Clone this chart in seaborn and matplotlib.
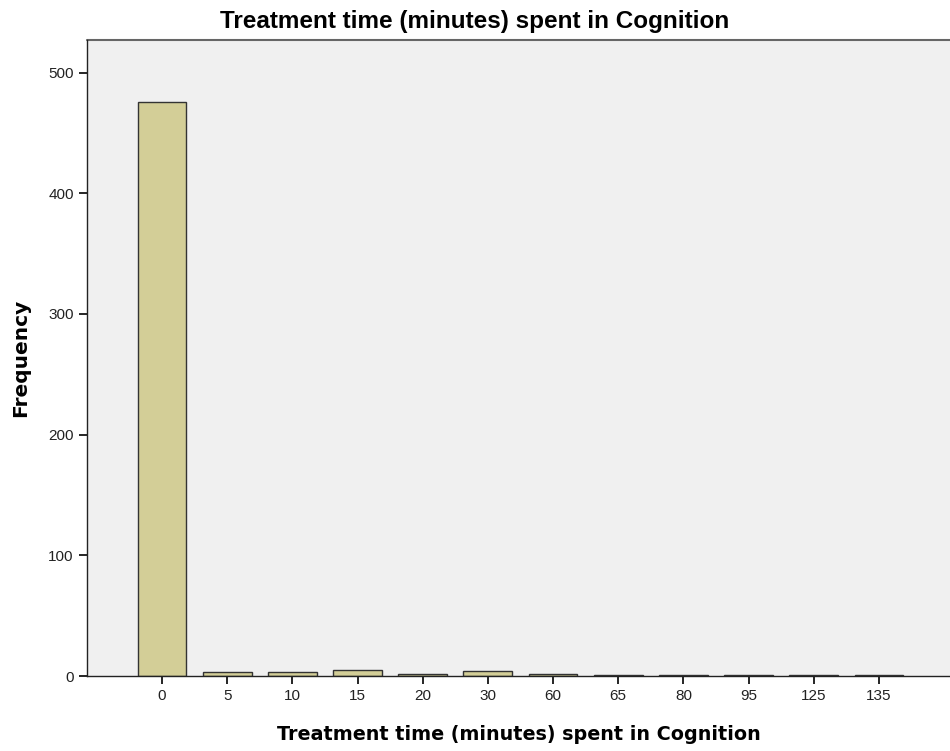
import matplotlib
matplotlib.use("Agg")
import matplotlib.pyplot as plt
import seaborn as sns
import pandas as pd

categories = ["0", "5", "10", "15", "20", "30", "60", "65", "80", "95", "125", "135"]
frequency = [476, 3, 3, 5, 2, 4, 2, 1, 1, 1, 1, 1]

df = pd.DataFrame({"minutes": categories, "freq": frequency})

sns.set_style("white")
plt.rcParams['font.family'] = ['Liberation Sans', 'DejaVu Sans']
plt.rcParams['text.color'] = 'black'
plt.rcParams['axes.labelcolor'] = 'black'

fig = plt.figure(figsize=(9.5, 7.51), dpi=100)
ax = fig.add_axes([87/950, 75/751, 1 - 87/950, (676-40)/751])
ax.set_facecolor("#f0f0f0")

sns.barplot(data=df, x="minutes", y="freq", order=categories, color="#d3ce97",
            edgecolor="#333333", linewidth=1.0, width=0.75, saturation=1, ax=ax)

ax.set_xlim(-1.15, 12.09)
ax.set_ylim(0, 527)
ax.set_yticks([0, 100, 200, 300, 400, 500])
ax.tick_params(axis="both", direction="out", length=6, width=1.2, color="black",
               labelsize=11, labelcolor="#222222", bottom=True, left=True)
for s in ["top", "right"]:
    ax.spines[s].set_visible(False)
for s in ["left", "bottom"]:
    ax.spines[s].set_color("#222222")
    ax.spines[s].set_linewidth(1.0)
ax.axhline(527, color="#666666", lw=1.5, clip_on=False)

ax.set_xlabel("Treatment time (minutes) spent in Cognition", fontsize=13.8, fontweight="bold",
              family=["DejaVu Sans"], labelpad=16)
ax.set_ylabel("Frequency", fontsize=14.5, fontweight="bold", family=["DejaVu Sans"], labelpad=13)
ax.set_title("Treatment time (minutes) spent in Cognition", fontsize=17.5, fontweight="bold",
             family=["Liberation Sans"], pad=8.5, x=(475 - 87) / 863)

fig.savefig("out.png", dpi=100)
